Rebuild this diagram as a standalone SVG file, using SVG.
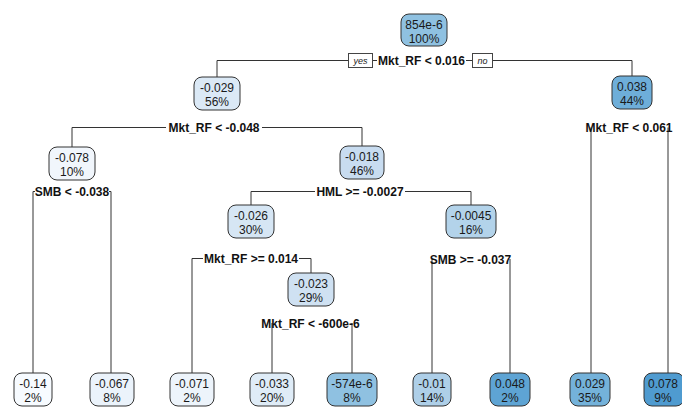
<svg xmlns="http://www.w3.org/2000/svg" width="682" height="410" viewBox="0 0 682 410">
<style>
.bg{fill:#ffffff}
.box{stroke:#333333;stroke-width:1}
.nt{font-family:"Liberation Sans",Arial,sans-serif;font-size:12px;fill:#1a1a1a;text-anchor:middle}
.st{font-family:"Liberation Sans",Arial,sans-serif;font-size:12px;font-weight:bold;fill:#111111;text-anchor:middle}
.yn{font-family:"Liberation Sans",Arial,sans-serif;font-size:9px;font-style:italic;fill:#222222;text-anchor:middle}
.ynb{fill:#ffffff;stroke:#444444;stroke-width:1}
.cn{stroke:#333333;stroke-width:1;fill:none}
</style>
<rect class="bg" x="0" y="0" width="682" height="410"/>
<g id="connectors">
  <path class="cn" d="M217,77 V60.5 H348 M373,60.5 H377 M466,60.5 H472 M493,60.5 H632 V76"/>
  <path class="cn" d="M72,147 V127.5 H166 M262,127.5 H362 V146"/>
  <path class="cn" d="M591,127.5 V373 M668,127.5 V373"/>
  <path class="cn" d="M33,373 V191.5 H35 M109,191.5 H111 V373"/>
  <path class="cn" d="M251,205 V191.5 H315 M405,191.5 H471 V205"/>
  <path class="cn" d="M192,373 V258.5 H203 M299,258.5 H311 V273"/>
  <path class="cn" d="M432,373 V259 M510,259 V373"/>
  <path class="cn" d="M272,323 V373 M352,323 V373"/>
</g>
<g id="labels">
  <rect class="ynb" x="348.5" y="53.5" width="24" height="14"/>
  <text class="yn" x="360.5" y="64">yes</text>
  <rect class="ynb" x="472.5" y="53.5" width="20" height="14"/>
  <text class="yn" x="482.5" y="64">no</text>
  <text class="st" x="421.5" y="65">Mkt_RF &lt; 0.016</text>
  <text class="st" x="214" y="132">Mkt_RF &lt; -0.048</text>
  <text class="st" x="629" y="131.5">Mkt_RF &lt; 0.061</text>
  <text class="st" x="72" y="196">SMB &lt; -0.038</text>
  <text class="st" x="360" y="196">HML &gt;= -0.0027</text>
  <text class="st" x="251" y="262.5">Mkt_RF &gt;= 0.014</text>
  <text class="st" x="470.5" y="263.5">SMB &gt;= -0.037</text>
  <text class="st" x="310.5" y="327.5">Mkt_RF &lt; -600e-6</text>
</g>
<g id="n1">
  <rect class="box" x="401" y="14" width="46" height="32" rx="8" fill="#8fc1e1"/>
  <text class="nt" x="424" y="29">854e-6</text>
  <text class="nt" x="424" y="42.5">100%</text>
</g>
<g id="n2">
  <rect class="box" x="194" y="77" width="46" height="33" rx="8" fill="#dbe9f6"/>
  <text class="nt" x="217" y="92">-0.029</text>
  <text class="nt" x="217" y="106">56%</text>
</g>
<g id="n3">
  <rect class="box" x="612" y="76" width="40" height="33" rx="8" fill="#6eaed9"/>
  <text class="nt" x="632" y="91">0.038</text>
  <text class="nt" x="632" y="105">44%</text>
</g>
<g id="n4">
  <rect class="box" x="49" y="147" width="46" height="33" rx="8" fill="#f1f6fc"/>
  <text class="nt" x="72" y="162">-0.078</text>
  <text class="nt" x="72" y="176">10%</text>
</g>
<g id="n5">
  <rect class="box" x="340" y="146" width="44" height="33" rx="8" fill="#c8dcf0"/>
  <text class="nt" x="362" y="161">-0.018</text>
  <text class="nt" x="362" y="175">46%</text>
</g>
<g id="n10">
  <rect class="box" x="228" y="205" width="46" height="33" rx="8" fill="#d6e6f4"/>
  <text class="nt" x="251" y="220">-0.026</text>
  <text class="nt" x="251" y="234">30%</text>
</g>
<g id="n11">
  <rect class="box" x="446" y="205" width="50" height="33" rx="8" fill="#b3d3ea"/>
  <text class="nt" x="471" y="220">-0.0045</text>
  <text class="nt" x="471" y="234">16%</text>
</g>
<g id="n21">
  <rect class="box" x="288" y="273" width="46" height="33" rx="8" fill="#cfe1f2"/>
  <text class="nt" x="311" y="288">-0.023</text>
  <text class="nt" x="311" y="302">29%</text>
</g>
<g id="leaf1">
  <rect class="box" x="14" y="373" width="38" height="33" rx="8" fill="#f7fbff"/>
  <text class="nt" x="33" y="388">-0.14</text>
  <text class="nt" x="33" y="402">2%</text>
</g>
<g id="leaf2">
  <rect class="box" x="90" y="373" width="44" height="33" rx="8" fill="#ebf3fb"/>
  <text class="nt" x="112" y="388">-0.067</text>
  <text class="nt" x="112" y="402">8%</text>
</g>
<g id="leaf3">
  <rect class="box" x="170" y="373" width="44" height="33" rx="8" fill="#edf4fb"/>
  <text class="nt" x="192" y="388">-0.071</text>
  <text class="nt" x="192" y="402">2%</text>
</g>
<g id="leaf4">
  <rect class="box" x="250" y="373" width="44" height="33" rx="8" fill="#dfecf7"/>
  <text class="nt" x="272" y="388">-0.033</text>
  <text class="nt" x="272" y="402">20%</text>
</g>
<g id="leaf5">
  <rect class="box" x="327" y="373" width="50" height="33" rx="8" fill="#8fc1e1"/>
  <text class="nt" x="352" y="388">-574e-6</text>
  <text class="nt" x="352" y="402">8%</text>
</g>
<g id="leaf6">
  <rect class="box" x="413" y="373" width="38" height="33" rx="8" fill="#aecfe8"/>
  <text class="nt" x="432" y="388">-0.01</text>
  <text class="nt" x="432" y="402">14%</text>
</g>
<g id="leaf7">
  <rect class="box" x="490" y="373" width="40" height="33" rx="8" fill="#5ea4d4"/>
  <text class="nt" x="510" y="388">0.048</text>
  <text class="nt" x="510" y="402">2%</text>
</g>
<g id="leaf8">
  <rect class="box" x="570" y="373" width="40" height="33" rx="8" fill="#74b2da"/>
  <text class="nt" x="590" y="388">0.029</text>
  <text class="nt" x="590" y="402">35%</text>
</g>
<g id="leaf9">
  <rect class="box" x="644" y="373" width="40" height="33" rx="8" fill="#4f9bd0"/>
  <text class="nt" x="663" y="388">0.078</text>
  <text class="nt" x="663" y="402">9%</text>
</g>
</svg>
